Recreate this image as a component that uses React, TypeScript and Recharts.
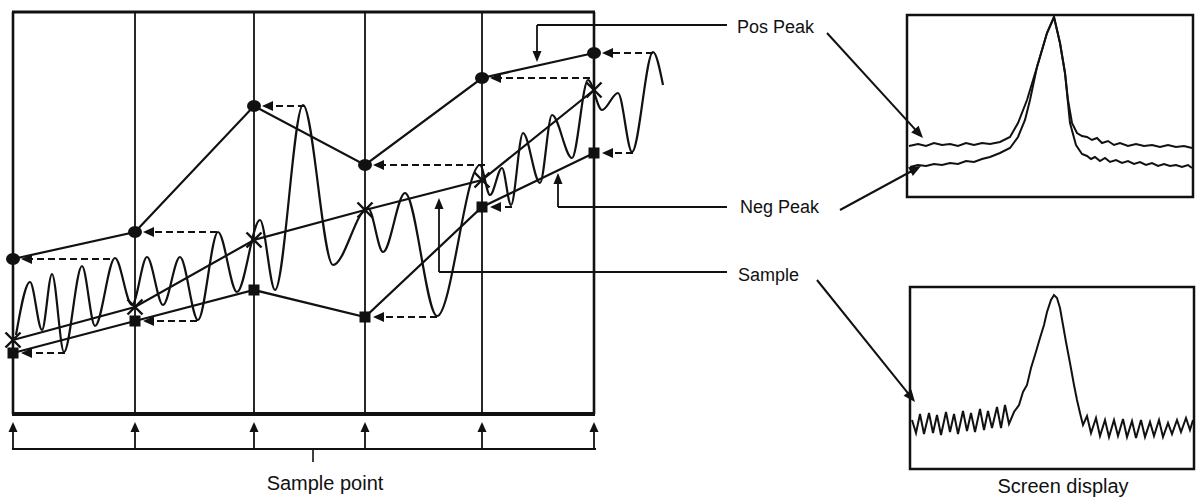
import React from 'react';
import { LineChart, Line, XAxis, YAxis, ReferenceLine, ReferenceArea } from 'recharts';

const INK = '#111';

// ---------- Main diagram (t = horizontal time units, v = level units) ----------
const samplePositions = [0, 122, 241, 352, 469, 581];
const posPeakValues = [155, 182, 308, 249, 336, 361];
const negPeakValues = [61, 93, 124, 97, 207, 261];
const sampleValues = [74, 107, 174, 204, 234, 324];
// where on the input signal each held peak was taken from
const posHoldSource = [97, 204, 292, 472, 577, 640];
const negHoldSource: (number | null)[] = [52, 184, null, 424, 499, 620];

// input signal extrema
const waveT = [3, 17, 29, 39, 51, 69, 82, 102, 119, 134, 150, 167, 185, 205, 224, 247, 262, 290, 320, 355, 370, 392, 424, 467, 477, 489, 498, 510, 527, 539, 559, 575, 589, 605, 619, 640, 650];
const waveV = [79, 132, 84, 140, 62, 148, 88, 156, 109, 157, 109, 157, 94, 182, 122, 194, 124, 309, 149, 206, 162, 221, 98, 249, 219, 246, 209, 281, 231, 299, 256, 334, 304, 321, 262, 362, 329];

// ---------- Screen displays ----------
const posTraceF = [2, 11, 19, 27, 35, 43, 51, 59, 67, 75, 83, 93, 103, 111, 120, 130, 140, 147, 153, 158, 161, 165, 170, 175, 180, 185, 190, 195, 201, 207, 213, 221, 229, 237, 245, 253, 261, 269, 277, 285];
const posTraceL = [51, 53, 51, 54, 52, 53, 51, 54, 52, 54, 53, 55, 60, 74, 97, 130, 164, 180, 154, 124, 97, 74, 64, 61, 60, 57, 59, 54, 56, 52, 54, 51, 53, 51, 52, 50, 52, 50, 51, 49];
const negTraceF = [3, 11, 19, 27, 35, 43, 51, 59, 67, 75, 83, 93, 103, 111, 118, 123, 130, 140, 147, 153, 158, 163, 169, 175, 180, 184, 188, 193, 198, 203, 209, 215, 221, 227, 233, 239, 245, 251, 257, 263, 269, 275, 281, 285];
const negTraceL = [30, 32, 31, 33, 32, 34, 33, 36, 35, 38, 40, 44, 49, 60, 77, 97, 130, 164, 180, 154, 124, 74, 52, 43, 41, 38, 40, 36, 39, 35, 37, 34, 36, 33, 35, 32, 34, 31, 33, 31, 32, 30, 32, 29];
const sampleTraceF = [2, 6, 10, 14, 19, 23, 27, 31, 36, 40, 44, 48, 53, 57, 61, 65, 70, 74, 78, 82, 87, 91, 95, 99, 104, 109, 113, 117, 121, 125, 130, 134, 137, 141, 144, 147, 150, 153, 156, 160, 164, 167, 170, 173, 177, 181, 186, 190, 195, 199, 204, 208, 213, 217, 222, 226, 231, 235, 240, 244, 249, 253, 258, 262, 267, 271, 276, 280, 283];
const sampleTraceL = [49, 36, 55, 35, 56, 36, 54, 34, 57, 37, 55, 35, 58, 38, 56, 37, 60, 39, 58, 41, 62, 41, 64, 45, 57, 64, 77, 84, 101, 114, 131, 144, 157, 169, 174, 171, 161, 144, 127, 106, 84, 69, 56, 44, 53, 36, 51, 33, 49, 32, 49, 33, 50, 32, 48, 31, 49, 32, 47, 33, 49, 32, 46, 35, 49, 37, 51, 39, 49];

const pts = (xs: number[], ys: (number | null)[]) => xs.map((t, i) => ({ t, v: ys[i] }));

const arrowShape = (head: number, halfW: number, width: number, dash?: string) => (p: any) => {
  const { x1, y1, x2, y2 } = p;
  const dx = x2 - x1;
  const dy = y2 - y1;
  const len = Math.hypot(dx, dy) || 1;
  const ux = dx / len;
  const uy = dy / len;
  const bx = x2 - ux * head;
  const by = y2 - uy * head;
  const poly = `${x2},${y2} ${bx - uy * halfW},${by + ux * halfW} ${bx + uy * halfW},${by - ux * halfW}`;
  return (
    <g>
      <line x1={x1} y1={y1} x2={bx + ux * 1} y2={by + uy * 1} stroke={INK} strokeWidth={width} strokeDasharray={dash} />
      <polygon points={poly} fill={INK} />
    </g>
  );
};

const circleDot = (p: any) => <ellipse key={`c${p.index}`} cx={p.cx} cy={p.cy} rx={7} ry={6} fill={INK} />;
const squareDot = (p: any) => <rect key={`s${p.index}`} x={p.cx - 5.5} y={p.cy - 5.5} width={11} height={11} fill={INK} />;
const crossDot = (p: any) => (
  <g key={`x${p.index}`}>
    <line x1={p.cx - 7.5} y1={p.cy - 7.5} x2={p.cx + 7.5} y2={p.cy + 7.5} stroke={INK} strokeWidth={2.4} />
    <line x1={p.cx - 7.5} y1={p.cy + 7.5} x2={p.cx + 7.5} y2={p.cy - 7.5} stroke={INK} strokeWidth={2.4} />
  </g>
);

const FRAME_TOP = 402;
const BRACKET = -35;
const BRACKET_TIP = -8;

const labelLevels = [389, 207, 142];
const labelStartT = [524, 545, 426];
const labelTipV = [352, 241, 216];
const labelEndT = 714;
const pointerFrom = [[814, 381], [827, 204], [804, 134]];
const pointerTo = [[910, 276], [908, 248], [902, 12]];

const textStyle = (left: number, top: number, size: number, center = false): React.CSSProperties => ({
  position: 'absolute',
  left,
  top,
  fontFamily: '"Liberation Sans", Arial, sans-serif',
  fontSize: size,
  lineHeight: `${size}px`,
  color: INK,
  whiteSpace: 'nowrap',
  transform: center ? 'translateX(-50%)' : undefined,
});

function ScreenChart({ left, top, w, h, series }: { left: number; top: number; w: number; h: number; series: { data: any[]; width: number }[] }) {
  return (
    <div style={{ position: 'absolute', left: left - 4, top: top - 4 }}>
      <LineChart width={w + 8} height={h + 8} margin={{ top: 4, right: 4, bottom: 4, left: 4 }}>
        <XAxis type="number" dataKey="t" domain={[0, w]} hide allowDataOverflow />
        <YAxis type="number" domain={[0, h]} hide allowDataOverflow />
        <ReferenceArea x1={0} x2={w} y1={0} y2={h} fill="none" stroke={INK} strokeWidth={2.5} ifOverflow="visible" />
        {series.map((s, i) => (
          <Line key={i} data={s.data} dataKey="v" type="linear" stroke={INK} strokeWidth={s.width} dot={false} activeDot={false} isAnimationActive={false} />
        ))}
      </LineChart>
    </div>
  );
}

export default function App() {
  const posData = pts(samplePositions, posPeakValues);
  const negData = pts(samplePositions, negPeakValues);
  const smpData = pts(samplePositions, sampleValues);
  const waveData = pts(waveT, waveV);

  return (
    <div style={{ position: 'absolute', left: 0, top: 0, width: 1203, height: 499, background: '#fff', overflow: 'hidden' }}>
      <div style={{ position: 'absolute', left: 0, top: 0 }}>
        <LineChart width={1203} height={499} margin={{ top: 0, right: 0, bottom: 0, left: 0 }}>
          <XAxis type="number" dataKey="t" domain={[-13, 1190]} hide allowDataOverflow />
          <YAxis type="number" domain={[-85, 414]} hide allowDataOverflow />

          {/* frame */}
          <ReferenceLine segment={[{ x: -1, y: FRAME_TOP }, { x: 582, y: FRAME_TOP }]} stroke={INK} strokeWidth={3} />
          <ReferenceLine segment={[{ x: -1, y: 0 }, { x: 582, y: 0 }]} stroke={INK} strokeWidth={4} />
          {samplePositions.map((t, i) => (
            <ReferenceLine key={`v${i}`} segment={[{ x: t, y: 0 }, { x: t, y: FRAME_TOP }]} stroke={INK} strokeWidth={i === 0 || i === samplePositions.length - 1 ? 2.6 : 1.8} />
          ))}

          {/* sample point bracket */}
          <ReferenceLine segment={[{ x: -1, y: BRACKET }, { x: 583, y: BRACKET }]} stroke={INK} strokeWidth={2} />
          <ReferenceLine segment={[{ x: 300, y: BRACKET }, { x: 300, y: BRACKET - 13 }]} stroke={INK} strokeWidth={1.6} />
          {samplePositions.map((t, i) => (
            <ReferenceLine key={`b${i}`} segment={[{ x: t, y: BRACKET }, { x: t, y: BRACKET_TIP }]} shape={arrowShape(10, 4.5, 1.8)} />
          ))}

          {/* input signal */}
          <Line data={waveData} dataKey="v" type="monotone" stroke={INK} strokeWidth={2.2} dot={false} activeDot={false} isAnimationActive={false} />

          {/* hold arrows */}
          {posHoldSource.map((s, i) => (
            <ReferenceLine key={`ph${i}`} segment={[{ x: s, y: posPeakValues[i] }, { x: samplePositions[i] + 8, y: posPeakValues[i] }]} shape={arrowShape(11, 5, 2.2, '7 4')} />
          ))}
          {negHoldSource.map((s, i) =>
            s === null ? null : (
              <ReferenceLine key={`nh${i}`} segment={[{ x: s, y: negPeakValues[i] }, { x: samplePositions[i] + 8, y: negPeakValues[i] }]} shape={arrowShape(11, 5, 2.2, '7 4')} />
            )
          )}

          {/* detector outputs */}
          <Line data={posData} dataKey="v" type="linear" stroke={INK} strokeWidth={2.2} dot={circleDot} activeDot={false} isAnimationActive={false} />
          <Line data={negData} dataKey="v" type="linear" stroke={INK} strokeWidth={2.2} dot={squareDot} activeDot={false} isAnimationActive={false} />
          <Line data={smpData} dataKey="v" type="linear" stroke={INK} strokeWidth={2.2} dot={crossDot} activeDot={false} isAnimationActive={false} />

          {/* label leaders */}
          {labelLevels.map((lv, i) => (
            <ReferenceLine key={`lh${i}`} segment={[{ x: labelStartT[i], y: lv }, { x: labelEndT, y: lv }]} stroke={INK} strokeWidth={2} />
          ))}
          {labelLevels.map((lv, i) => (
            <ReferenceLine key={`la${i}`} segment={[{ x: labelStartT[i], y: lv }, { x: labelStartT[i], y: labelTipV[i] }]} shape={arrowShape(11, 4.5, 1.8)} />
          ))}
          {pointerFrom.map((f, i) => (
            <ReferenceLine key={`pt${i}`} segment={[{ x: f[0], y: f[1] }, { x: pointerTo[i][0], y: pointerTo[i][1] }]} shape={arrowShape(12, 5, 2)} />
          ))}
        </LineChart>
      </div>

      <ScreenChart
        left={907}
        top={15}
        w={286}
        h={182}
        series={[
          { data: pts(negTraceF, negTraceL), width: 2 },
          { data: pts(posTraceF, posTraceL), width: 2 },
        ]}
      />
      <ScreenChart left={910} top={287} w={284} h={182} series={[{ data: pts(sampleTraceF, sampleTraceL), width: 2 }]} />

      <div style={textStyle(737, 18, 18)}>Pos Peak</div>
      <div style={textStyle(740, 198, 18)}>Neg Peak</div>
      <div style={textStyle(738, 266, 18)}>Sample</div>
      <div style={textStyle(325, 473, 20, true)}>Sample point</div>
      <div style={textStyle(1063, 476, 20, true)}>Screen display</div>
    </div>
  );
}
